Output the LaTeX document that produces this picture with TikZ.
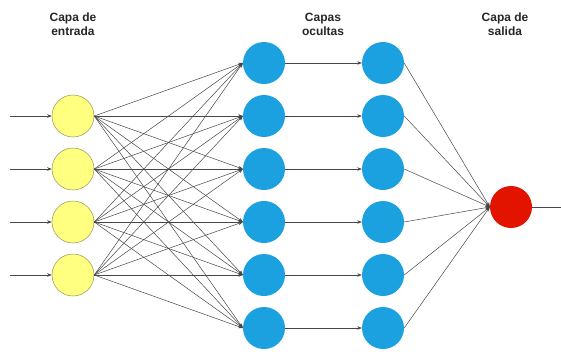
\documentclass[tikz,border=0pt]{standalone}
\usepackage{fontspec}
\setmainfont{Liberation Sans}
\usetikzlibrary{arrows.meta}
\definecolor{inyellow}{RGB}{255,255,128}
\definecolor{inborder}{RGB}{150,150,90}
\definecolor{hidblue}{RGB}{27,160,224}
\definecolor{outred}{RGB}{226,20,0}
\definecolor{linkgray}{RGB}{70,70,70}
\tikzset{
  neuron/.style={circle,minimum size=42pt,inner sep=0pt},
  inneuron/.style={neuron,fill=inyellow,draw=inborder,line width=0.5pt},
  hidneuron/.style={neuron,fill=hidblue},
  outneuron/.style={neuron,fill=outred},
  link/.style={draw=linkgray,line width=0.5pt,-{Stealth[length=4.5pt,width=3.5pt]}},
  plainlink/.style={draw=linkgray,line width=0.5pt},
  layerlabel/.style={align=center,font=\fontsize{12}{14}\selectfont\bfseries,text=black!85}
}
\begin{document}
\begin{tikzpicture}[x=1pt,y=-1pt]
\useasboundingbox (0,0) rectangle (561,351);
% labels
\node[layerlabel] (l1) at (73,24) {Capa de\\entrada};
\node[layerlabel] (l2) at (323,24) {Capas\\ocultas};
\node[layerlabel] (l3) at (505,24) {Capa de\\salida};
% input layer
\foreach \i/\y in {1/116,2/169,3/222,4/275}{
  \node[inneuron] (i\i) at (73,\y) {};
  \coordinate (s\i) at (10,\y);
  \draw[link] (s\i) -- (i\i.west);
}
% hidden layers
\foreach \j/\y in {1/63,2/116,3/169,4/222,5/275,6/328}{
  \node[hidneuron] (h\j) at (264,\y) {};
  \node[hidneuron] (g\j) at (383,\y) {};
}
% output
\node[outneuron] (o) at (511,207) {};
\coordinate (oend) at (561,207);
\draw[plainlink] (o.east) -- (oend);
% connections
\foreach \i in {1,...,4}{
  \foreach \j in {1,...,6}{
    \draw[link] (i\i.east) -- (h\j.west);
  }
}
\foreach \j in {1,...,6}{
  \draw[link] (h\j.east) -- (g\j.west);
  \draw[link] (g\j.east) -- (o.west);
}
\end{tikzpicture}
\end{document}
